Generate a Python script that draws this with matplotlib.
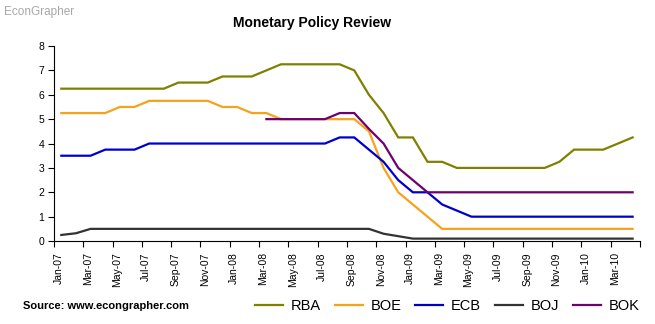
import numpy as np
import matplotlib
matplotlib.use("Agg")
import matplotlib.pyplot as plt

plt.rcParams['font.family'] = ['Liberation Sans', 'DejaVu Sans']

months = ["Jan-07", "Feb-07", "Mar-07", "Apr-07", "May-07", "Jun-07", "Jul-07", "Aug-07",
          "Sep-07", "Oct-07", "Nov-07", "Dec-07", "Jan-08", "Feb-08", "Mar-08", "Apr-08",
          "May-08", "Jun-08", "Jul-08", "Aug-08", "Sep-08", "Oct-08", "Nov-08", "Dec-08",
          "Jan-09", "Feb-09", "Mar-09", "Apr-09", "May-09", "Jun-09", "Jul-09", "Aug-09",
          "Sep-09", "Oct-09", "Nov-09", "Dec-09", "Jan-10", "Feb-10", "Mar-10", "Apr-10"]

rba = [6.25, 6.25, 6.25, 6.25, 6.25, 6.25, 6.25, 6.25, 6.5, 6.5, 6.5, 6.75, 6.75, 6.75,
       7.0, 7.25, 7.25, 7.25, 7.25, 7.25, 7.0, 6.0, 5.25, 4.25, 4.25, 3.25, 3.25, 3.0,
       3.0, 3.0, 3.0, 3.0, 3.0, 3.0, 3.25, 3.75, 3.75, 3.75, 4.0, 4.25]
boe = [5.25, 5.25, 5.25, 5.25, 5.5, 5.5, 5.75, 5.75, 5.75, 5.75, 5.75, 5.5, 5.5, 5.25,
       5.25, 5.0, 5.0, 5.0, 5.0, 5.0, 5.0, 4.5, 3.0, 2.0, 1.5, 1.0, 0.5, 0.5,
       0.5, 0.5, 0.5, 0.5, 0.5, 0.5, 0.5, 0.5, 0.5, 0.5, 0.5, 0.5]
ecb = [3.5, 3.5, 3.5, 3.75, 3.75, 3.75, 4.0, 4.0, 4.0, 4.0, 4.0, 4.0, 4.0, 4.0,
       4.0, 4.0, 4.0, 4.0, 4.0, 4.25, 4.25, 3.75, 3.25, 2.5, 2.0, 2.0, 1.5, 1.25,
       1.0, 1.0, 1.0, 1.0, 1.0, 1.0, 1.0, 1.0, 1.0, 1.0, 1.0, 1.0]
boj = [0.25, 0.32, 0.5, 0.5, 0.5, 0.5, 0.5, 0.5, 0.5, 0.5, 0.5, 0.5, 0.5, 0.5,
       0.5, 0.5, 0.5, 0.5, 0.5, 0.5, 0.5, 0.5, 0.3, 0.2, 0.1, 0.1, 0.1, 0.1,
       0.1, 0.1, 0.1, 0.1, 0.1, 0.1, 0.1, 0.1, 0.1, 0.1, 0.1, 0.1]
bok = [np.nan] * 14 + [5.0, 5.0, 5.0, 5.0, 5.0, 5.25, 5.25, 4.6, 4.0, 3.0, 2.5, 2.0,
       2.0, 2.0, 2.0, 2.0, 2.0, 2.0, 2.0, 2.0, 2.0, 2.0, 2.0, 2.0, 2.0, 2.0]

series = [("RBA", rba, "#808000"), ("BOE", boe, "#F7A21B"), ("ECB", ecb, "#0000CC"),
          ("BOJ", boj, "#333333"), ("BOK", bok, "#6E0070")]

fig = plt.figure(figsize=(6.55, 3.24), dpi=100)
ax = fig.add_axes([0.0824, 0.256, 0.8946, 0.602])

x = np.arange(len(months))
handles = []
for name, vals, col in series:
    h, = ax.plot(x, vals, color=col, lw=1.6, label=name, solid_joinstyle='miter')
    handles.append(h)

ax.set_xlim(-0.5, len(months) - 0.5)
ax.set_ylim(0, 8)
ax.set_yticks(range(0, 9))
ax.tick_params(axis='y', direction='out', length=4, width=0.8, labelsize=7.5, pad=3)

# major ticks at category boundaries, labels every 2nd month
ax.set_xticks(np.arange(-0.5, len(months), 2))
ax.set_xticklabels([])
ax.tick_params(axis='x', which='major', direction='out', length=4, width=0.8)
ax.set_xticks(x[::2] - 0.2, minor=True)
ax.set_xticklabels(months[::2], minor=True, rotation=90, fontsize=7.5)
ax.tick_params(axis='x', which='minor', length=0, pad=8)

for s in ['top', 'right']:
    ax.spines[s].set_visible(False)
for s in ['left', 'bottom']:
    ax.spines[s].set_linewidth(0.8)

fig.text(0.4756, 0.929, "Monetary Policy Review", ha='center', va='center',
         fontsize=10, fontweight='bold')
fig.text(0.006, 0.962, "EconGrapher", ha='left', va='center', fontsize=8.5, color='#A8A8A8')
fig.text(0.035, 0.056, "Source: www.econgrapher.com", ha='left', va='center',
         fontsize=8, fontweight='bold')

fig.legend(handles=handles, labels=[s[0] for s in series], loc='center',
           bbox_to_anchor=(0.683, 0.056), ncol=5, frameon=False, fontsize=10.5,
           handlelength=1.9, handletextpad=0.55, columnspacing=0.95, borderpad=0)

fig.savefig("out.png", dpi=100)
